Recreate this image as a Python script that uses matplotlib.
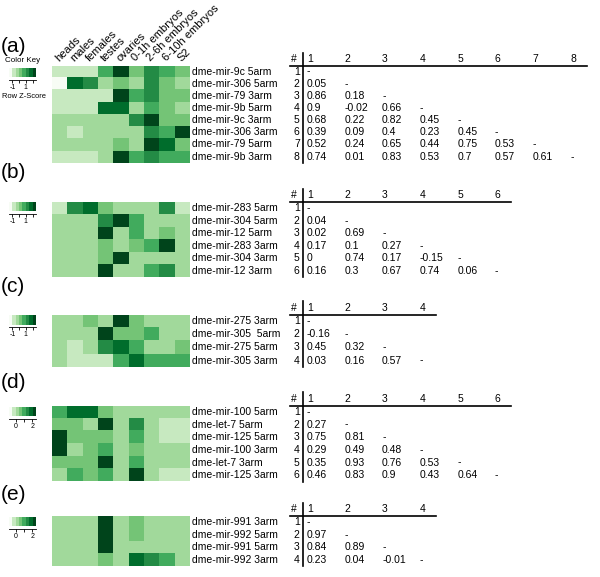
import numpy as np
import matplotlib
matplotlib.use('Agg')
import matplotlib.pyplot as plt
from matplotlib.colors import ListedColormap

plt.rcParams['font.family'] = ['Liberation Sans', 'DejaVu Sans']

tissues = ['heads', 'males', 'females', 'testes', 'ovaries',
           '0-1h embryos', '2-6h embryos', '6-10h embryos', 'S2']

# shade level of each cell, 0 = palest ... 7 = darkest
greens = ['#f7fcf5', '#c7e9c0', '#a1d99b', '#74c476',
          '#41ab5d', '#238b45', '#006d2c', '#00441b']

names_a = ['dme-mir-9c 5arm', 'dme-mir-306 5arm', 'dme-mir-79 3arm', 'dme-mir-9b 5arm',
           'dme-mir-9c 3arm', 'dme-mir-306 3arm', 'dme-mir-79 5arm', 'dme-mir-9b 3arm']
shade_a = [[1, 1, 1, 4, 7, 3, 5, 4, 3],
           [0, 6, 5, 2, 3, 2, 5, 3, 2],
           [1, 1, 1, 1, 7, 4, 5, 3, 3],
           [1, 1, 1, 6, 6, 2, 4, 3, 2],
           [2, 2, 2, 2, 2, 5, 7, 3, 3],
           [2, 1, 2, 2, 2, 2, 5, 4, 7],
           [2, 2, 2, 2, 3, 2, 7, 6, 3],
           [1, 1, 1, 2, 7, 4, 5, 4, 4]]
corr_a = [[], [0.05], [0.86, 0.18], [0.9, -0.02, 0.66], [0.68, 0.22, 0.82, 0.45],
          [0.39, 0.09, 0.4, 0.23, 0.45], [0.52, 0.24, 0.65, 0.44, 0.75, 0.53],
          [0.74, 0.01, 0.83, 0.53, 0.7, 0.57, 0.61]]

names_b = ['dme-mir-283 5arm', 'dme-mir-304 5arm', 'dme-mir-12 5arm',
           'dme-mir-283 3arm', 'dme-mir-304 3arm', 'dme-mir-12 3arm']
shade_b = [[1, 5, 6, 3, 2, 2, 2, 5, 1],
           [2, 2, 2, 5, 7, 4, 2, 2, 2],
           [2, 2, 2, 7, 2, 4, 2, 3, 2],
           [2, 2, 2, 3, 2, 3, 4, 7, 2],
           [2, 2, 2, 3, 7, 2, 2, 2, 2],
           [2, 2, 2, 7, 2, 2, 4, 5, 2]]
corr_b = [[], [0.04], [0.02, 0.69], [0.17, 0.1, 0.27], [0, 0.74, 0.17, -0.15],
          [0.16, 0.3, 0.67, 0.74, 0.06]]

names_c = ['dme-mir-275 3arm', 'dme-mir-305  5arm', 'dme-mir-275 5arm', 'dme-mir-305 3arm']
shade_c = [[2, 2, 3, 2, 7, 3, 2, 2, 2],
           [2, 2, 2, 7, 3, 3, 4, 2, 2],
           [2, 1, 2, 5, 6, 4, 2, 2, 3],
           [2, 1, 1, 1, 4, 6, 4, 4, 4]]
corr_c = [[], [-0.16], [0.45, 0.32], [0.03, 0.16, 0.57]]

names_d = ['dme-mir-100 5arm', 'dme-let-7 5arm', 'dme-mir-125 5arm',
           'dme-mir-100 3arm', 'dme-let-7 3arm', 'dme-mir-125 3arm']
shade_d = [[4, 6, 6, 3, 2, 2, 2, 2, 2],
           [3, 3, 2, 7, 2, 5, 2, 1, 1],
           [7, 3, 3, 3, 2, 4, 2, 1, 1],
           [7, 2, 3, 4, 2, 3, 2, 2, 2],
           [3, 3, 3, 7, 2, 4, 2, 2, 2],
           [2, 4, 3, 4, 2, 7, 2, 1, 1]]
corr_d = [[], [0.27], [0.75, 0.81], [0.29, 0.49, 0.48], [0.35, 0.93, 0.76, 0.53],
          [0.46, 0.83, 0.9, 0.43, 0.64]]

names_e = ['dme-mir-991 3arm', 'dme-mir-992 5arm', 'dme-mir-991 5arm', 'dme-mir-992 3arm']
shade_e = [[2, 2, 2, 7, 2, 3, 2, 2, 2],
           [2, 2, 2, 7, 2, 3, 2, 2, 2],
           [2, 2, 2, 7, 2, 2, 2, 2, 2],
           [2, 2, 2, 3, 2, 6, 5, 4, 2]]
corr_e = [[], [0.97], [0.84, 0.89], [0.23, 0.04, -0.01]]

key_ticks_ac = [-1, 0, 1, 2]
key_labels_ac = ['-1', '', '1', '']
key_ticks_de = [0, 1, 2]
key_labels_de = ['0', '', '2']

# layout in pixels: heatmap top/bottom, tag y, key bar top
panels = [
    ('(a)', names_a, shade_a, corr_a, 65.5, 162.7, 46, 68, (-1.5, 2.5), key_ticks_ac, key_labels_ac),
    ('(b)', names_b, shade_b, corr_b, 202, 277, 173, 202, (-1.5, 2.5), key_ticks_ac, key_labels_ac),
    ('(c)', names_c, shade_c, corr_c, 315, 367, 287, 315, (-1.5, 2.5), key_ticks_ac, key_labels_ac),
    ('(d)', names_d, shade_d, corr_d, 405.5, 481.5, 382, 407, (-0.86, 2.47), key_ticks_de, key_labels_de),
    ('(e)', names_e, shade_e, corr_e, 516, 566, 494, 517, (-0.86, 2.47), key_ticks_de, key_labels_de),
]

W, H = 600, 577
cmap = ListedColormap(greens)
fs = 7.5


def box(x, y, w, h):
    return [x / W, 1 - (y + h) / H, w / W, h / H]


fig = plt.figure(figsize=(W / 100, H / 100), dpi=100)

col_w = 37.6
for tag, names, shade, corr, top, bottom, tag_y, key_y, key_lim, kt, kl in panels:
    n = len(names)
    fig.text(1 / W, 1 - tag_y / H, tag, fontsize=15, va='center', ha='left')

    # heatmap
    ax = fig.add_axes(box(52.3, top, 137.7, bottom - top))
    ax.imshow(np.array(shade), cmap=cmap, vmin=-0.5, vmax=7.5, aspect='auto',
              interpolation='nearest', extent=(0, 9, n, 0))
    ax.set_xlim(0, 9)
    ax.set_ylim(n, 0)
    ax.axis('off')
    for i, name in enumerate(names):
        ax.text(9.13, i + 0.5, name, ha='left', va='center', fontsize=fs)
    if tag == '(a)':
        for j, t in enumerate(tissues):
            ax.text(j + 0.3, -0.5, t, rotation=45, rotation_mode='anchor',
                    ha='left', va='center', fontsize=8)

    # colour key
    kax = fig.add_axes(box(9, key_y, 27, 9.5))
    kax.imshow(np.arange(len(greens))[None, :], cmap=cmap, vmin=-0.5, vmax=7.5,
               aspect='auto', extent=(key_lim[0], key_lim[1], 0, 1))
    kax.set_xlim(*key_lim)
    kax.set_yticks([])
    kax.set_xticks(kt)
    kax.set_xticklabels(kl)
    kax.tick_params(axis='x', length=2.5, width=0.6, labelsize=5, pad=1)
    for s in ['top', 'left', 'right']:
        kax.spines[s].set_visible(False)
    kax.spines['bottom'].set_position(('outward', 1.5))
    kax.spines['bottom'].set_linewidth(0.6)
    if tag == '(a)':
        fig.text(22.5 / W, 1 - 61 / H, 'Color Key', fontsize=5.8, ha='center', va='center')
        fig.text(23.5 / W, 1 - 97 / H, 'Row Z-Score', fontsize=5.4, ha='center', va='center')

    # correlation table
    tx = fig.add_axes(box(302.7, top, 290, bottom - top))
    tx.set_xlim(0, 290 / col_w)
    tx.set_ylim(n, 0)
    tx.axis('off')
    tx.text(-0.24, -0.55, '#', ha='center', va='center', fontsize=fs)
    for j in range(n):
        tx.text(0.11 + j, -0.55, str(j + 1), ha='left', va='center', fontsize=fs)
    tx.plot([-0.34, n - 0.45], [0, 0], color='black', lw=1.2, clip_on=False)
    tx.plot([0, 0], [-1.05, n], color='black', lw=1.2, clip_on=False)
    for i in range(n):
        tx.text(-0.08, i + 0.5, str(i + 1), ha='right', va='center', fontsize=fs)
        for j, v in enumerate(corr[i]):
            tx.text(0.11 + j, i + 0.5, f'{v:g}', ha='left', va='center', fontsize=fs)
        tx.text(0.11 + i, i + 0.5, '-', ha='left', va='center', fontsize=fs)

fig.savefig('out.png', dpi=100)
